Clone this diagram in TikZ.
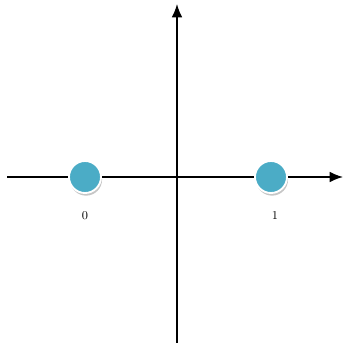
\documentclass[tikz,border=0pt]{standalone}
\usepackage{tikz}
\usetikzlibrary{positioning, arrows.meta, shadows}
\definecolor{dotblue}{HTML}{4BACC6}
\tikzset{
  axis/.style={line width=1.1pt, -{Latex[length=10pt,width=8pt]}},
  pt/.style={circle, fill=dotblue, draw=white, line width=1.4pt, minimum size=24pt,
    inner sep=0pt, drop shadow={shadow xshift=0.8pt, shadow yshift=-2pt, opacity=0.45}},
  lbl/.style={font=\small, inner sep=1pt}}

\begin{document}
\begin{tikzpicture}[x=0.75pt, y=-0.75pt]
\useasboundingbox (0,0) rectangle (347,345);
\coordinate (o) at (177,177);
\coordinate (w) at (7,177);
\coordinate (e) at (343,177);
\coordinate (s) at (177,343);
\coordinate (n) at (177,4);
\draw [axis] (w) -- (e);
\draw [axis] (s) -- (n);
\node [pt] (p0) at (85,177) {};
\node [pt] (p1) at (271,177) {};
\node [lbl, below=12pt of p0] (l0) {0};
\node [lbl, below=12pt of p1, xshift=3pt] (l1) {1};
\end{tikzpicture}
\end{document}
